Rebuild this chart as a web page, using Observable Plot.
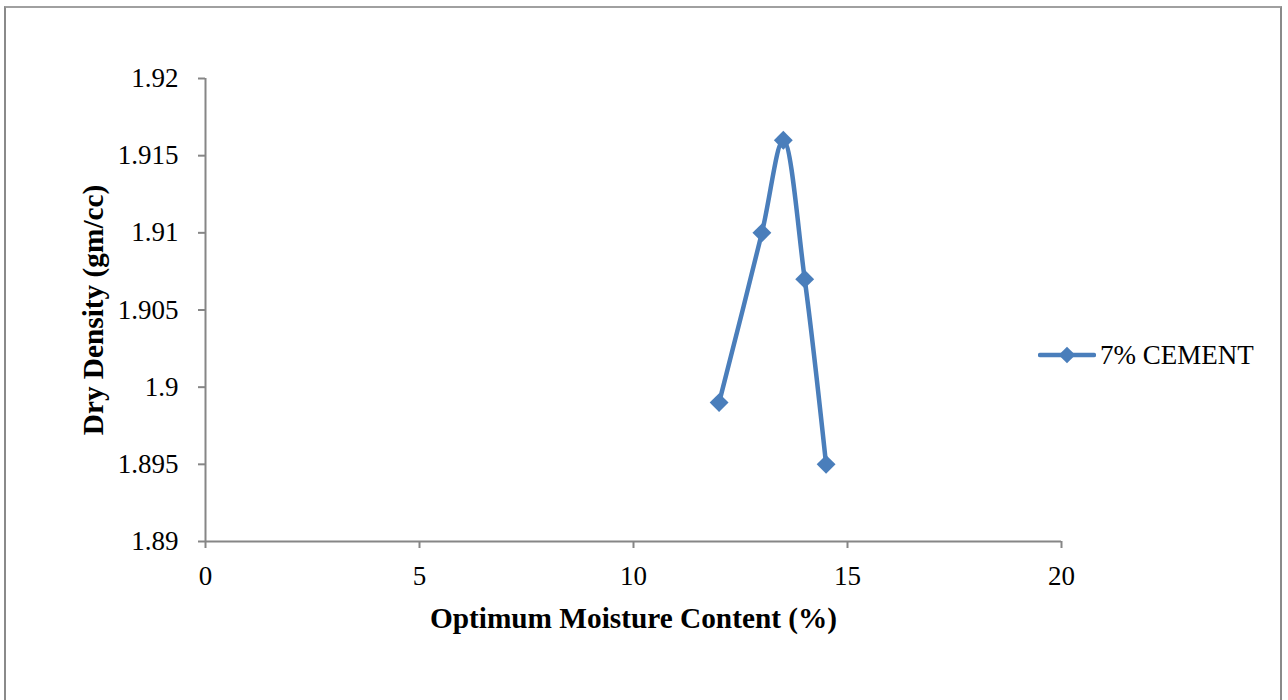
<!DOCTYPE html>
<html>
<head>
<meta charset="utf-8">
<script src="https://cdn.jsdelivr.net/npm/d3@7"></script>
<script src="https://cdn.jsdelivr.net/npm/@observablehq/plot@0.6"></script>
<style>
  html, body { margin: 0; padding: 0; background: #fff; overflow: hidden; }
  #wrap { position: relative; width: 1288px; height: 700px; }
  #frame { position: absolute; left: 4px; top: 6px; width: 1278px; height: 720px; border: 2px solid #a0a0a0; border-left-color: #8a8a8a; border-right-color: #8a8a8a; box-sizing: border-box; pointer-events: none; }
  #legend { position: absolute; left: 1038px; top: 338px; display: flex; align-items: center; font-family: "Liberation Serif", "Times New Roman", serif; font-size: 27px; color: #000; }
</style>
</head>
<body>
<div id="wrap">
  <div id="chart"></div>
  <div id="frame"></div>
  <div id="legend"></div>
</div>
<script>
const moisture = [12, 13, 13.5, 14, 14.5];
const density = [1.899, 1.910, 1.916, 1.907, 1.895];
const seriesName = "7% CEMENT";
const xTicks = [0, 5, 10, 15, 20];
const yTicks = [1.89, 1.895, 1.9, 1.905, 1.91, 1.915, 1.92];
const xTitle = "Optimum Moisture Content (%)";
const yTitle = "Dry Density (gm/cc)";

const data = moisture.map((m, i) => ({x: m, y: density[i]}));
const blue = "#4a7ebb";
const axisColor = "#868686";
const font = "Liberation Serif, Times New Roman, serif";

const chart = Plot.plot({
  width: 1288,
  height: 700,
  marginLeft: 205,
  marginRight: 227,
  marginTop: 78,
  marginBottom: 159,
  style: {fontFamily: font, fontSize: "27px", color: "#000", background: "transparent"},
  x: {domain: [0, 20], label: null},
  y: {domain: [1.89, 1.92], label: null},
  marks: [
    Plot.axisY({ticks: yTicks, tickSize: 7, tickPadding: 20, stroke: axisColor, strokeWidth: 2, tickFormat: d => String(+d.toFixed(3)), fill: "#000", fontSize: 27, label: null}),
    Plot.axisX({ticks: xTicks, tickSize: 7, tickPadding: 17, stroke: axisColor, strokeWidth: 2, tickFormat: d => String(d), fill: "#000", fontSize: 27, label: null}),
    Plot.ruleX([0], {stroke: axisColor, strokeWidth: 2}),
    Plot.ruleY([1.89], {stroke: axisColor, strokeWidth: 2}),
    Plot.line(data, {x: "x", y: "y", stroke: blue, strokeWidth: 4.5, curve: "catmull-rom"}),
    Plot.dot(data, {x: "x", y: "y", symbol: "diamond2", r: 8.5, fill: blue, stroke: "none"}),
    Plot.text([xTitle], {frameAnchor: "bottom", dy: 77, text: d => d, textAnchor: "middle", fontWeight: "bold", fontSize: 29.3, lineAnchor: "middle", fill: "#000"}),
    Plot.text([yTitle], {frameAnchor: "left", dx: -112, text: d => d, textAnchor: "middle", rotate: -90, fontWeight: "bold", fontSize: 29.3, lineAnchor: "middle", fill: "#000"})
  ]
});
document.getElementById("chart").appendChild(chart);

// legend
const leg = document.getElementById("legend");
const sw = d3.create("svg").attr("width", 58).attr("height", 34);
sw.append("line").attr("x1", 2).attr("x2", 56).attr("y1", 17).attr("y2", 17)
  .attr("stroke", blue).attr("stroke-width", 4.5).attr("stroke-linecap", "round");
sw.append("path").attr("d", d3.symbol(d3.symbolDiamond2, Math.PI * 7.5 * 7.5)()).attr("transform", "translate(29,17)").attr("fill", blue);
leg.appendChild(sw.node());
const lt = document.createElement("span");
lt.textContent = seriesName;
lt.style.marginLeft = "4px";
leg.appendChild(lt);
</script>
</body>
</html>
